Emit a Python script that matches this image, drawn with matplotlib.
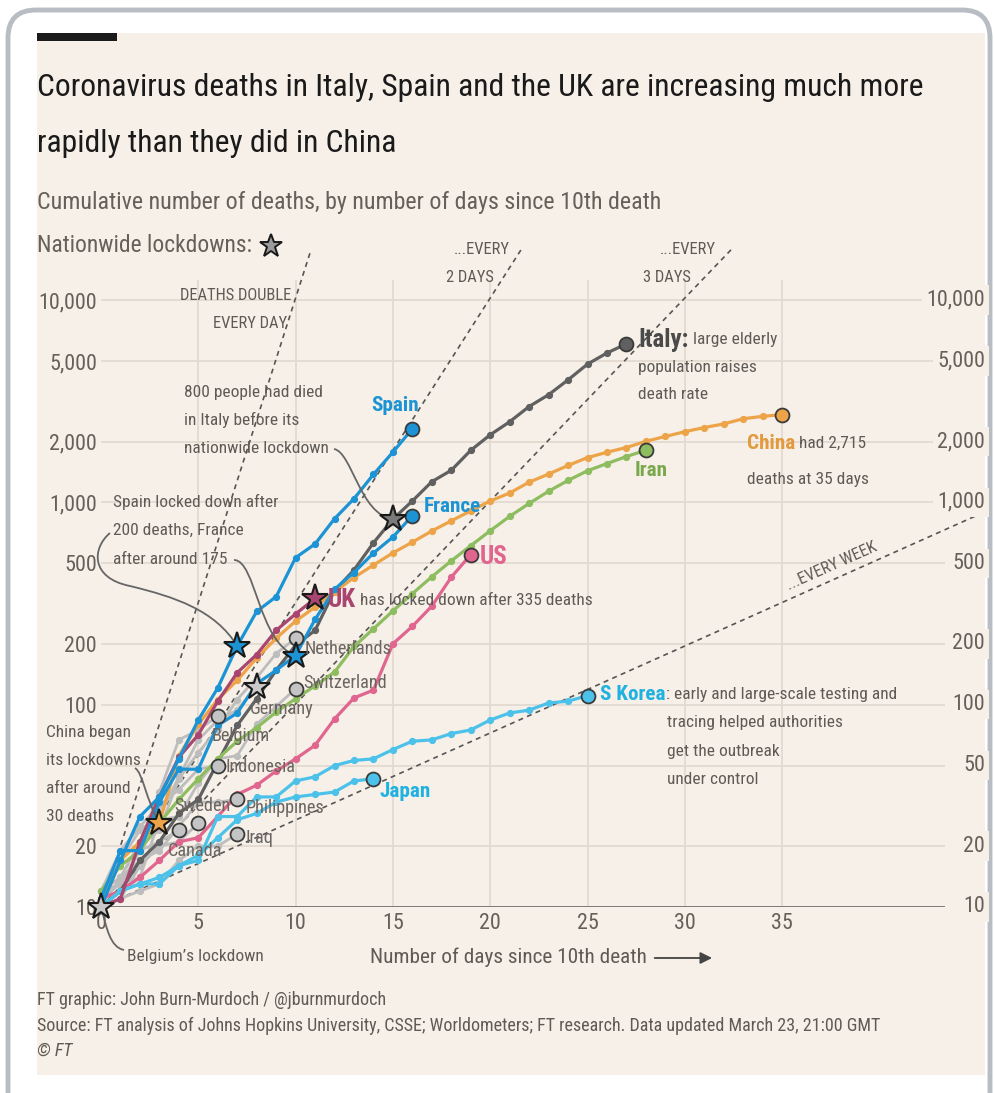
import numpy as np
import matplotlib.pyplot as plt
import matplotlib.transforms as mtransforms
from matplotlib import font_manager
from matplotlib.patches import FancyBboxPatch, Rectangle, PathPatch, FancyArrowPatch
from matplotlib.path import Path
from matplotlib.lines import Line2D
from matplotlib.ticker import NullLocator

W, H = 995, 1093

# cumulative deaths, one value per day since the 10th death (day 0 first)
spain = [10, 17, 28, 35, 54, 84, 121, 195, 289, 342, 533, 623, 830, 1043, 1375, 1772, 2311]
france = [11, 19, 19, 33, 48, 48, 79, 91, 127, 148, 175, 264, 372, 450, 562, 674, 860]
italy = [10, 12, 17, 21, 29, 34, 52, 79, 107, 148, 197, 233, 366, 463, 631, 827, 1016, 1266,
         1441, 1809, 2158, 2503, 2978, 3405, 4032, 4825, 5476, 6077]
china = [10, 17, 21, 26, 56, 80, 106, 132, 170, 213, 259, 304, 361, 425, 490, 563, 636, 722,
         811, 908, 1016, 1113, 1259, 1380, 1523, 1665, 1770, 1868, 2004, 2118, 2236, 2345,
         2442, 2592, 2663, 2715]
iran = [12, 16, 19, 26, 34, 43, 54, 66, 77, 92, 107, 124, 145, 194, 237, 291, 354, 429, 514,
        611, 724, 853, 988, 1135, 1284, 1433, 1556, 1685, 1812]
us = [11, 12, 14, 17, 21, 22, 28, 36, 40, 47, 54, 63, 85, 108, 118, 200, 244, 307, 427, 552]
uk = [10, 11, 21, 35, 55, 71, 104, 144, 177, 233, 281, 335]
s_korea = [10, 12, 13, 13, 16, 17, 28, 28, 35, 35, 42, 44, 50, 53, 54, 60, 66, 67, 72, 75,
           84, 91, 94, 102, 104, 111]
japan = [10, 12, 13, 14, 16, 18, 22, 27, 29, 33, 35, 36, 37, 42, 43]

netherlands = [10, 12, 20, 24, 43, 58, 76, 106, 136, 179, 213]
switzerland = [11, 13, 14, 27, 28, 41, 54, 56, 80, 98, 120]
germany = [11, 17, 24, 28, 44, 67, 84, 94, 123]
belgium = [10, 14, 21, 37, 67, 75, 88]
indonesia = [12, 19, 25, 32, 38, 48, 50]
sweden = [10, 11, 16, 20, 21, 26]
philippines = [12, 14, 17, 19, 25, 33, 33, 34]
iraq = [10, 11, 12, 13, 17, 20, 20, 23]
canada = [12, 13, 19, 21, 24]

grey_names = ['Netherlands', 'Switzerland', 'Germany', 'Belgium', 'Indonesia', 'Sweden',
              'Philippines', 'Iraq', 'Canada']
grey_series = [netherlands, switzerland, germany, belgium, indonesia, sweden, philippines,
               iraq, canada]

# nationwide lockdowns: country and day
lockdown_names = ['Belgium', 'China', 'Spain', 'Germany', 'France', 'UK', 'Italy']
lockdown_days = [0, 3, 7, 8, 10, 11, 15]

# doubling-time guide lines (days to double)
double_days = [1, 2, 3, 7]

ytick_vals = [10, 20, 50, 100, 200, 500, 1000, 2000, 5000, 10000]
ytick_labels = ['10', '20', '50', '100', '200', '500', '1,000', '2,000', '5,000', '10,000']
xtick_vals = [0, 5, 10, 15, 20, 25, 30, 35]

# colours
CREAM = '#f6f0e8'
GRID = '#e3dad0'
TXT = '#5f5a55'
BLUE = '#1b93d4'
LBLUE = '#4cc2ea'
ITALY = '#606060'
ORANGE = '#eda449'
GREEN = '#8dbd5f'
PINK = '#e0658f'
UKC = '#a9466f'
GREY = '#bdbdbd'

names = {f.name for f in font_manager.fontManager.ttflist}
fam = 'DejaVu Sans'
for f in ['Liberation Sans Narrow', 'Roboto Condensed', 'Open Sans Condensed', 'Liberation Sans']:
    if f in names:
        fam = f
        break
plt.rcParams['font.family'] = [fam, 'DejaVu Sans']

fig = plt.figure(figsize=(W / 100, H / 100), dpi=100)
fig.patch.set_facecolor('white')
renderer = fig.canvas.get_renderer()
ident = mtransforms.IdentityTransform()


def fit(s, target, weight='normal'):
    t = fig.text(0, 0, s, fontsize=20, fontweight=weight)
    w = t.get_window_extent(renderer).width
    t.remove()
    return 20 * target / w


def ftext(x, y, s, **kw):
    kw.setdefault('va', 'center')
    return fig.text(x / W, 1 - y / H, s, **kw)


fs_title = fit('Coronavirus deaths in Italy, Spain and the UK are increasing much more', 888)
fs_sub = fit('Cumulative number of deaths, by number of days since 10th death', 623)
fs_lock = fit('Nationwide lockdowns:', 215)
fs_tick = fit('10,000', 59)
fs_note = fit('Spain locked down after', 165)
fs_name = fit('Netherlands', 87)
fs_bold = fit('France', 57, 'bold')
fs_big = fit('UK', 28, 'bold')
fs_caps = fit('DEATHS DOUBLE', 112)
fs_xlab = fit('Number of days since 10th death', 276)
fs_foot = fit('Source: FT analysis of Johns Hopkins University, CSSE; Worldometers; FT research. '
              'Data updated March 23, 21:00 GMT', 845)

# frame, panel and black bar
fig.add_artist(FancyBboxPatch((8, -60), 982, H - 10 + 60, boxstyle='round,pad=0,rounding_size=28',
                              transform=ident, fc='white', ec='#b7bdc3', lw=3.5, zorder=-5))
fig.add_artist(Rectangle((37, H - 1075), 948, 1075 - 33, transform=ident, fc=CREAM, ec='none',
                         zorder=-4))
fig.add_artist(Rectangle((37, H - 41), 80, 8, transform=ident, fc='#1b1b1b', ec='none', zorder=-3))

# titles
ftext(37, 88, 'Coronavirus deaths in Italy, Spain and the UK are increasing much more',
      fontsize=fs_title, color='#1a1a1a')
ftext(37, 144, 'rapidly than they did in China', fontsize=fs_title, color='#1a1a1a')
ftext(37, 202, 'Cumulative number of deaths, by number of days since 10th death',
      fontsize=fs_sub, color='#66605a')
ftext(37, 246, 'Nationwide lockdowns:', fontsize=fs_lock, color='#66605a')
fig.add_artist(Line2D([271], [H - 246], transform=ident, marker='*', ms=17, mfc='#9b9b9b',
                      mec='#1a1a1a', mew=1.4, ls='none'))

# axes
ax = fig.add_axes([101 / W, (H - 907) / H, 844 / W, 667 / H])
ax.set_facecolor('none')
ax.set_yscale('log')
ax.set_xlim(0, 844 / 19.46)
ax.set_ylim(10, 10 ** (1 + 667 / 202.3))
for s in ax.spines.values():
    s.set_visible(False)
ax.yaxis.set_minor_locator(NullLocator())
ax.set_yticks(ytick_vals)
# the left "50" sits under the China note in the original, so it is left blank there
ax.set_yticklabels(['' if lab == '50' else lab for lab in ytick_labels])
ax.set_xticks(xtick_vals)
ax.set_xticklabels([str(v) for v in xtick_vals])
ax.tick_params(length=0, labelsize=fs_tick, labelcolor='#66605a')
ax.tick_params(axis='y', pad=3)
ax.tick_params(axis='x', pad=4)

xmax = ax.get_xlim()[1]
ax.hlines(ytick_vals[1:], 0, xmax, color=GRID, lw=1.3, zorder=0)
ax.vlines(xtick_vals[1:], 10, 10 ** 4.1, color=GRID, lw=1.3, zorder=0)
ax.hlines(10, 0, xmax, color='#707070', lw=2, zorder=1)
right = mtransforms.blended_transform_factory(ax.transAxes, ax.transData)
for v, lab in zip(ytick_vals, ytick_labels):
    ax.text(1 + 40 / 844, v, lab, transform=right, ha='right', va='center', fontsize=fs_tick,
            color='#66605a', bbox=dict(fc=CREAM, ec='none', pad=3), clip_on=False)

# doubling guide lines
guide_end = [10.8, 21.6, 32.4, 45.0]
for d, e in zip(double_days, guide_end):
    gx = np.linspace(0, e, 200)
    ax.plot(gx, 10 * 2 ** (gx / d), color='#555555', lw=1.2, ls=(0, (3, 2.6)), zorder=2,
            clip_on=False)

# country lines
def line(vals, color, z, lw=2.3):
    ax.plot(np.arange(len(vals)), vals, color=color, lw=lw, marker='o', ms=4.2, zorder=z,
            solid_capstyle='round', clip_on=False)


for vals in grey_series:
    line(vals, GREY, 3, lw=2.0)
line(italy, ITALY, 3.5)
line(china, ORANGE, 4)
line(iran, GREEN, 4)
line(us, PINK, 4.2)
line(japan, LBLUE, 4.3)
line(s_korea, LBLUE, 4.3)
line(uk, UKC, 4.6)
line(france, BLUE, 4.8)
line(spain, BLUE, 5)

# end circles
ends = [(spain, BLUE), (france, BLUE), (italy, ITALY), (china, ORANGE), (iran, GREEN),
        (us, PINK), (s_korea, LBLUE), (japan, LBLUE)]
ends += [(v, '#c4c4c4') for n, v in zip(grey_names, grey_series) if n != 'Germany']
for vals, c in ends:
    ax.plot(len(vals) - 1, vals[-1], 'o', ms=10, mfc=c, mec='#3a3a3a', mew=1.3, zorder=10,
            clip_on=False)

# lockdown stars
series_by_name = dict(zip(grey_names, grey_series))
series_by_name.update({'China': china, 'Spain': spain, 'France': france, 'UK': uk,
                       'Italy': italy})
star_col = {'Belgium': '#c9c9c9', 'China': ORANGE, 'Spain': BLUE, 'Germany': '#c9c9c9',
            'France': BLUE, 'UK': UKC, 'Italy': '#7a7a7a'}
for n, d in zip(lockdown_names, lockdown_days):
    ax.plot(d, series_by_name[n][d], marker='*', ms=20, mfc=star_col[n], mec='#1a1a1a', mew=1.5,
            zorder=12, clip_on=False)


def anchor(vals, day=None):
    if day is None:
        day = len(vals) - 1
    x, y = ax.transData.transform((day, vals[day]))
    return x, H - y


def two_part(x, y, a, b, ca, fs_a=None, cb=TXT):
    t = ftext(x, y, a, fontsize=fs_a or fs_bold, fontweight='bold', color=ca)
    bb = t.get_window_extent(renderer)
    ftext(bb.x1, y, b, fontsize=fs_note, color=cb)


# series labels
x, y = anchor(spain)
ftext(x - 17, y - 23, 'Spain', fontsize=fs_bold, fontweight='bold', color=BLUE, ha='center')
x, y = anchor(france)
ftext(x + 11, y - 9, 'France', fontsize=fs_bold, fontweight='bold', color=BLUE)
x, y = anchor(italy)
two_part(x + 12, y - 4, 'Italy:', ' large elderly', '#4a4a4a', fs_big)
ftext(x + 12, y + 24, 'population raises', fontsize=fs_note, color=TXT)
ftext(x + 12, y + 51, 'death rate', fontsize=fs_note, color=TXT)
x, y = anchor(china)
two_part(x - 35, y + 29, 'China', ' had 2,715', '#e39a3d')
ftext(x - 35, y + 65, 'deaths at 35 days', fontsize=fs_note, color=TXT)
x, y = anchor(iran)
ftext(x + 5, y + 20, 'Iran', fontsize=fs_bold, fontweight='bold', color='#7aa84c', ha='center')
x, y = anchor(us)
ftext(x + 9, y + 2, 'US', fontsize=fs_big, fontweight='bold', color=PINK)
x, y = anchor(uk)
two_part(x + 13, y + 2, 'UK', ' has locked down after 335 deaths', UKC, fs_big)
x, y = anchor(s_korea)
two_part(x + 13, y - 1, 'S Korea', ': early and large-scale testing and', '#1fb1e0')
for i, s in enumerate(['tracing helped authorities', 'get the outbreak', 'under control']):
    ftext(x + 80, y + 27 + 28.5 * i, s, fontsize=fs_note, color=TXT)
x, y = anchor(japan)
ftext(x + 6, y + 13, 'Japan', fontsize=fs_bold, fontweight='bold', color='#1fb1e0')

grey_offsets = [(9, 11), (8, -6), (-7, 22), (-6, 20), (8, 1), (-24, -17), (8, 9), (8, 4),
                (-11, 21)]
for n, vals, (dx, dy) in zip(grey_names, grey_series, grey_offsets):
    x, y = anchor(vals)
    ftext(x + dx, y + dy, n, fontsize=fs_name, color='#6a6560')

# notes
def lines_at(x, y0, rows, step, **kw):
    for i, r in enumerate(rows):
        ftext(x, y0 + step * i, r, fontsize=fs_note, color=TXT, **kw)


lines_at(184, 392, ['800 people had died', 'in Italy before its', 'nationwide lockdown'], 28.3)
lines_at(113, 502, ['Spain locked down after', '200 deaths, France', 'after around 175'], 28.5)
lines_at(46, 733, ['China began', 'its lockdowns', 'after around', '30 deaths'], 27.7)
ftext(127, 956, 'Belgium\u2019s lockdown', fontsize=fs_note, color=TXT)

ftext(291, 296, 'DEATHS DOUBLE', fontsize=fs_caps, color=TXT, ha='right')
ftext(287, 324, 'EVERY DAY', fontsize=fs_caps, color=TXT, ha='right')
ftext(510, 250, '...EVERY', fontsize=fs_caps, color=TXT, ha='right')
ftext(494, 277, '2 DAYS', fontsize=fs_caps, color=TXT, ha='right')
ftext(716, 250, '...EVERY', fontsize=fs_caps, color=TXT, ha='right')
ftext(691, 277, '3 DAYS', fontsize=fs_caps, color=TXT, ha='right')
ftext(832, 566, '...EVERY WEEK', fontsize=fs_caps, color=TXT, ha='center', rotation=24,
      rotation_mode='anchor')

# leader lines (cubic curves in pixels, ending on the stars)
def leader(pts, vals, day):
    sx, sy = ax.transData.transform((day, vals[day]))
    verts = [(px, H - py) for px, py in pts] + [(sx, sy)]
    codes = [Path.MOVETO] + [Path.CURVE4] * (len(verts) - 1)
    ax.add_patch(PathPatch(Path(verts, codes), fc='none', ec='#666666', lw=1.3,
                           transform=ident, clip_on=False, zorder=11))


leader([(334, 449), (352, 452), (360, 515)], italy, 15)
leader([(110, 533), (92, 548), (90, 578), (130, 586), (175, 597), (215, 610)], spain, 7)
leader([(234, 560), (256, 560), (258, 642)], france, 10)
leader([(135, 768), (143, 773), (146, 800)], china, 3)
bx, by = ax.transData.transform((0, belgium[0]))
ax.add_patch(PathPatch(Path([(bx, by), (bx + 6, by - 22), (bx + 9, by - 40), (bx + 23, by - 43)],
                            [Path.MOVETO, Path.CURVE4, Path.CURVE4, Path.CURVE4]),
                       fc='none', ec='#666666', lw=1.3, transform=ident, clip_on=False, zorder=11))

# x-axis title with arrow
t = ftext(370, 957, 'Number of days since 10th death', fontsize=fs_xlab, color=TXT)
bb = t.get_window_extent(renderer)
fig.add_artist(FancyArrowPatch((bb.x1 + 5, H - 958), (bb.x1 + 68, H - 958), transform=ident,
                               arrowstyle='-|>,head_length=7,head_width=3.5', color='#444444',
                               lw=1.3, mutation_scale=1))

# footer
ftext(37, 1000, 'FT graphic: John Burn-Murdoch / @jburnmurdoch', fontsize=fs_foot, color=TXT)
ftext(37, 1026, 'Source: FT analysis of Johns Hopkins University, CSSE; Worldometers; FT research. '
      'Data updated March 23, 21:00 GMT', fontsize=fs_foot, color=TXT)
ftext(37, 1051, '\u00a9 FT', fontsize=fs_foot, color=TXT, style='italic')

fig.savefig('out.png', dpi=100, facecolor='white')
